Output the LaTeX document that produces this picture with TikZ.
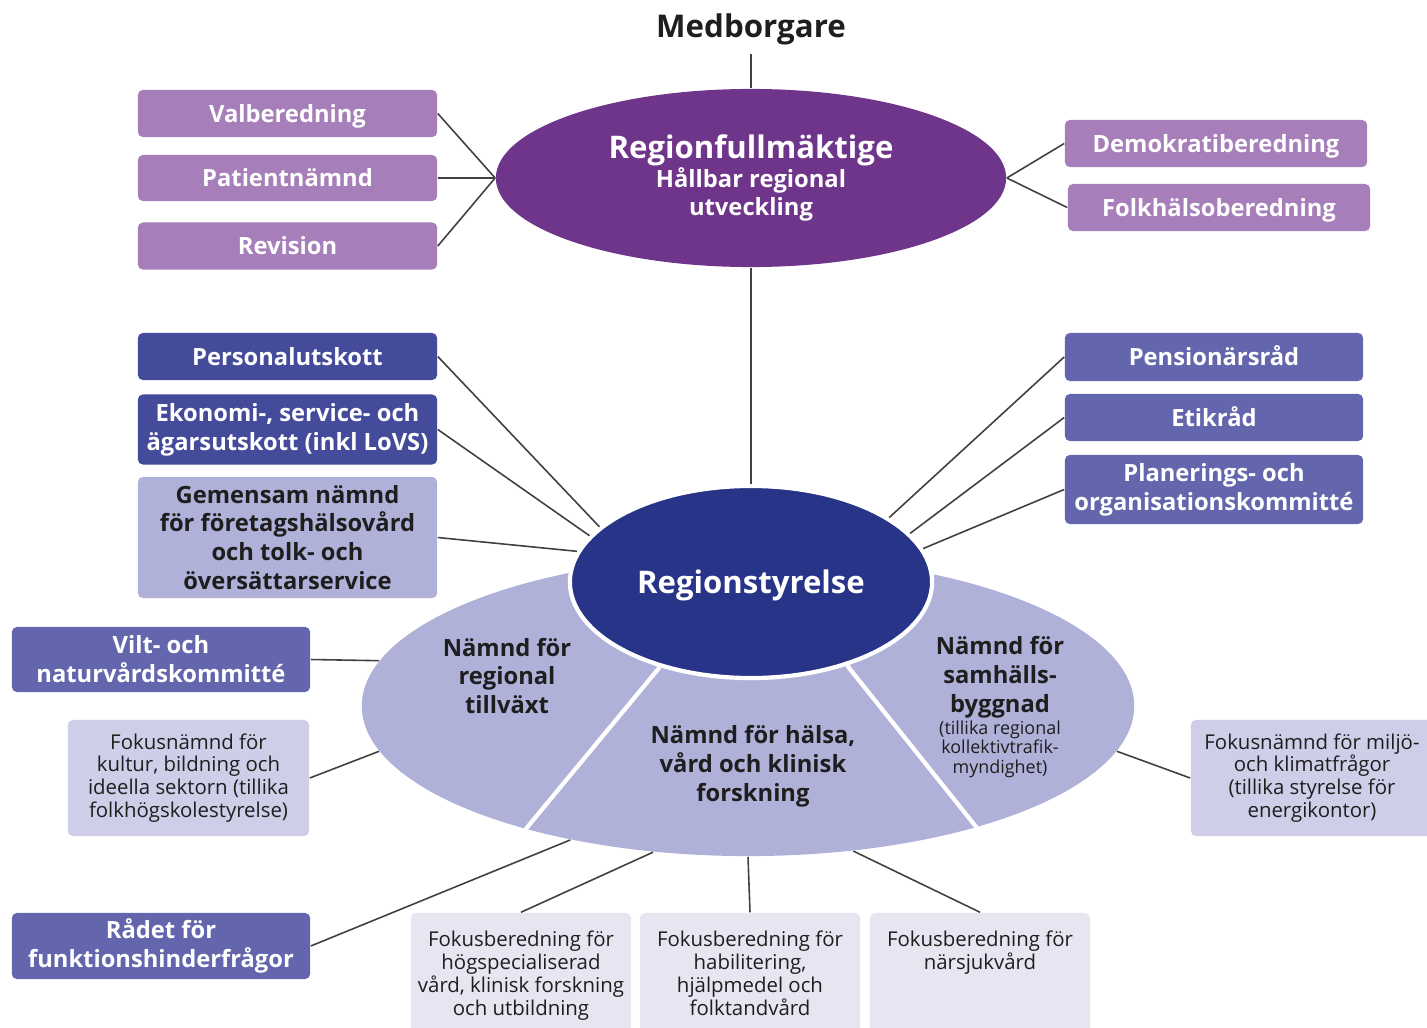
\documentclass[tikz,border=0pt]{standalone}
\usepackage{fontspec}
\setmainfont{Open Sans}
\usetikzlibrary{shapes.geometric}

\definecolor{rfLila}{RGB}{111,53,138}
\definecolor{ljusLila}{RGB}{166,126,185}
\definecolor{rsBla}{RGB}{40,52,136}
\definecolor{utskBla}{RGB}{68,75,155}
\definecolor{radBla}{RGB}{100,102,173}
\definecolor{namndBla}{RGB}{176,177,217}
\definecolor{fokusBla}{RGB}{207,206,232}
\definecolor{berBla}{RGB}{230,230,242}
\definecolor{textGra}{RGB}{30,30,30}

\newcommand{\fbtext}[1]{\parbox[c][0.94cm][t]{2.16cm}{\centering #1}}

\tikzset{
	box/.style={rectangle, rounded corners=1.4pt, inner sep=0pt, align=center, text=white, font=\bfseries\fontsize{6.75}{8.2}\selectfont},
	enrad/.style={text height=4.9pt, text depth=0pt},
	beredning/.style={box, enrad, fill=ljusLila, minimum width=2.99cm, minimum height=0.47cm},
	utskott/.style={box, fill=utskBla, minimum width=2.99cm},
	rad/.style={box, fill=radBla, minimum width=2.98cm},
	fokus/.style={box, fill=fokusBla, text=textGra, font=\fontsize{5.8}{6.5}\selectfont},
	fokusber/.style={fokus, fill=berBla, minimum width=2.2cm, minimum height=1.3cm},
	namnd/.style={align=center, text=textGra, inner sep=0pt, font=\bfseries\fontsize{6.75}{8.2}\selectfont},
	link/.style={draw=black!75, line width=0.45pt}
}

\begin{document}
\begin{tikzpicture}[x=0.01cm, y=-0.01cm]
			%%%%% START %%%%%
			\useasboundingbox (0,0) rectangle (1427,1027);
			\clip (0,0) rectangle (1427,1027);
			
			% fullmaktige
			\node[font=\bfseries\fontsize{8.9}{11}\selectfont, text=textGra, inner sep=0pt] (medb) at (751,29) {Medborgare};
			\node[ellipse, fill=rfLila, text=white, minimum width=5.10cm, minimum height=1.78cm, inner sep=0pt, align=center, font=\bfseries\fontsize{6.75}{8.2}\selectfont] (rf) at (751,178) {{\fontsize{8.85}{10.5}\selectfont Regionfullmäktige}\\Hållbar regional\\utveckling};
			
			\node[beredning] (valb) at (287.5,113.5) {Valberedning};
			\node[beredning, minimum height=0.46cm] (pat) at (287.5,178) {Patientnämnd};
			\node[beredning] (rev) at (287.5,246) {Revision};
			\node[beredning, minimum width=3.02cm] (demo) at (1216,143.5) {Demokratiberedning};
			\node[beredning, minimum width=3.02cm] (folk) at (1219,207.5) {Folkhälsoberedning};
			
			% styrelse
			\node[utskott, enrad, minimum height=0.47cm] (pers) at (287.5,356.5) {Personalutskott};
			\node[utskott, minimum height=0.70cm] (eko) at (287.5,429.5) {Ekonomi-, service- och\\ägarsutskott (inkl LoVS)};
			\node[box, fill=namndBla, text=textGra, minimum width=2.99cm, minimum height=1.21cm] (gem) at (287.5,537.5) {Gemensam nämnd\\för företagshälsovård\\och tolk- och\\översättarservice};
			\node[rad, enrad, minimum height=0.48cm] (pens) at (1214,357) {Pensionärsråd};
			\node[rad, enrad, minimum height=0.47cm] (etik) at (1214,417.5) {Etikråd};
			\node[rad, minimum height=0.69cm] (plan) at (1214,489.5) {Planerings- och\\organisationskommitté};
			
			% namnder
			\node[ellipse, fill=namndBla, minimum width=7.72cm, minimum height=3.00cm, inner sep=0pt] (nd) at (748,706) {};
			\node[ellipse, fill=rsBla, draw=white, line width=1.2pt, text=white, minimum width=3.62cm, minimum height=1.92cm, inner sep=0pt, text height=6.3pt, text depth=0pt, font=\bfseries\fontsize{8.85}{11}\selectfont] (rs) at (751,582) {Regionstyrelse};
			\draw[white, line width=1.2pt] (rs.223) -- (nd.209);
			\draw[white, line width=1.2pt] (rs.319) -- (nd.332);
			
			\node[namnd] (ntill) at (507,676) {Nämnd för\\regional\\tillväxt};
			\node[namnd] (nhals) at (753,766) {Nämnd för hälsa,\\vård och klinisk\\forskning};
			\node[namnd] (nsamh) at (1000,677) {Nämnd för\\samhälls-\\byggnad};
			\node[namnd, font=\fontsize{5.1}{5.5}\selectfont] (nsamx) at (1000,749) {(tillika regional\\kollektivtrafik-\\myndighet)};
			
			\node[rad, minimum height=0.65cm] (vilt) at (161,659.5) {Vilt- och\\naturvårdskommitté};
			\node[rad, minimum height=0.66cm] (radet) at (161,946) {Rådet för\\funktionshinderfrågor};
			\node[fokus, minimum width=2.41cm, minimum height=1.16cm] (kult) at (188.5,778) {Fokusnämnd för\\kultur, bildning och\\ideella sektorn (tillika\\folkhögskolestyrelse)};
			\node[fokus, minimum width=2.42cm, minimum height=1.16cm] (miljo) at (1312,778) {Fokusnämnd för miljö-\\och klimatfrågor\\(tillika styrelse för\\energikontor)};
			
			\node[fokusber] (fb1) at (521,978) {\fbtext{Fokusberedning för\\högspecialiserad\\vård, klinisk forskning\\och utbildning}};
			\node[fokusber] (fb2) at (750,978) {\fbtext{Fokusberedning för\\habilitering,\\hjälpmedel och\\folktandvård}};
			\node[fokusber] (fb3) at (980,978) {\fbtext{Fokusberedning för\\närsjukvård}};
			
			% linjer
			\draw[link, shorten <=2.5pt] (medb.south) -- (rf.north);
			\draw[link] (valb.east) -- (rf.west);
			\draw[link] (pat.east) -- (rf.west);
			\draw[link] (rev.east) -- (rf.west);
			\draw[link] (rf.east) -- (demo.west);
			\draw[link] (rf.east) -- (folk.west);
			\draw[link] (rf.south) -- (rs.north);
			
			\draw[link] (pers.east) -- (rs.160);
			\draw[link] (eko.east) -- (rs.164);
			\draw[link] (gem.east) -- (rs.170);
			\draw[link] (pens.west) -- (rs.25);
			\draw[link] (etik.west) -- (rs.17);
			\draw[link] (plan.west) -- (rs.11);
			
			\draw[link] (vilt.east) -- (nd.173);
			\draw[link] (kult.east) -- (nd.187);
			\draw[link] (radet.east) -- (nd.217);
			\draw[link] (fb1.north) -- (nd.237);
			\draw[link] (fb2.north) -- (nd.south);
			\draw[link] (fb3.north) -- (nd.306);
			\draw[link] (miljo.west) -- (nd.353);
			
			%%%%% END %%%%%
\end{tikzpicture}
\end{document}
